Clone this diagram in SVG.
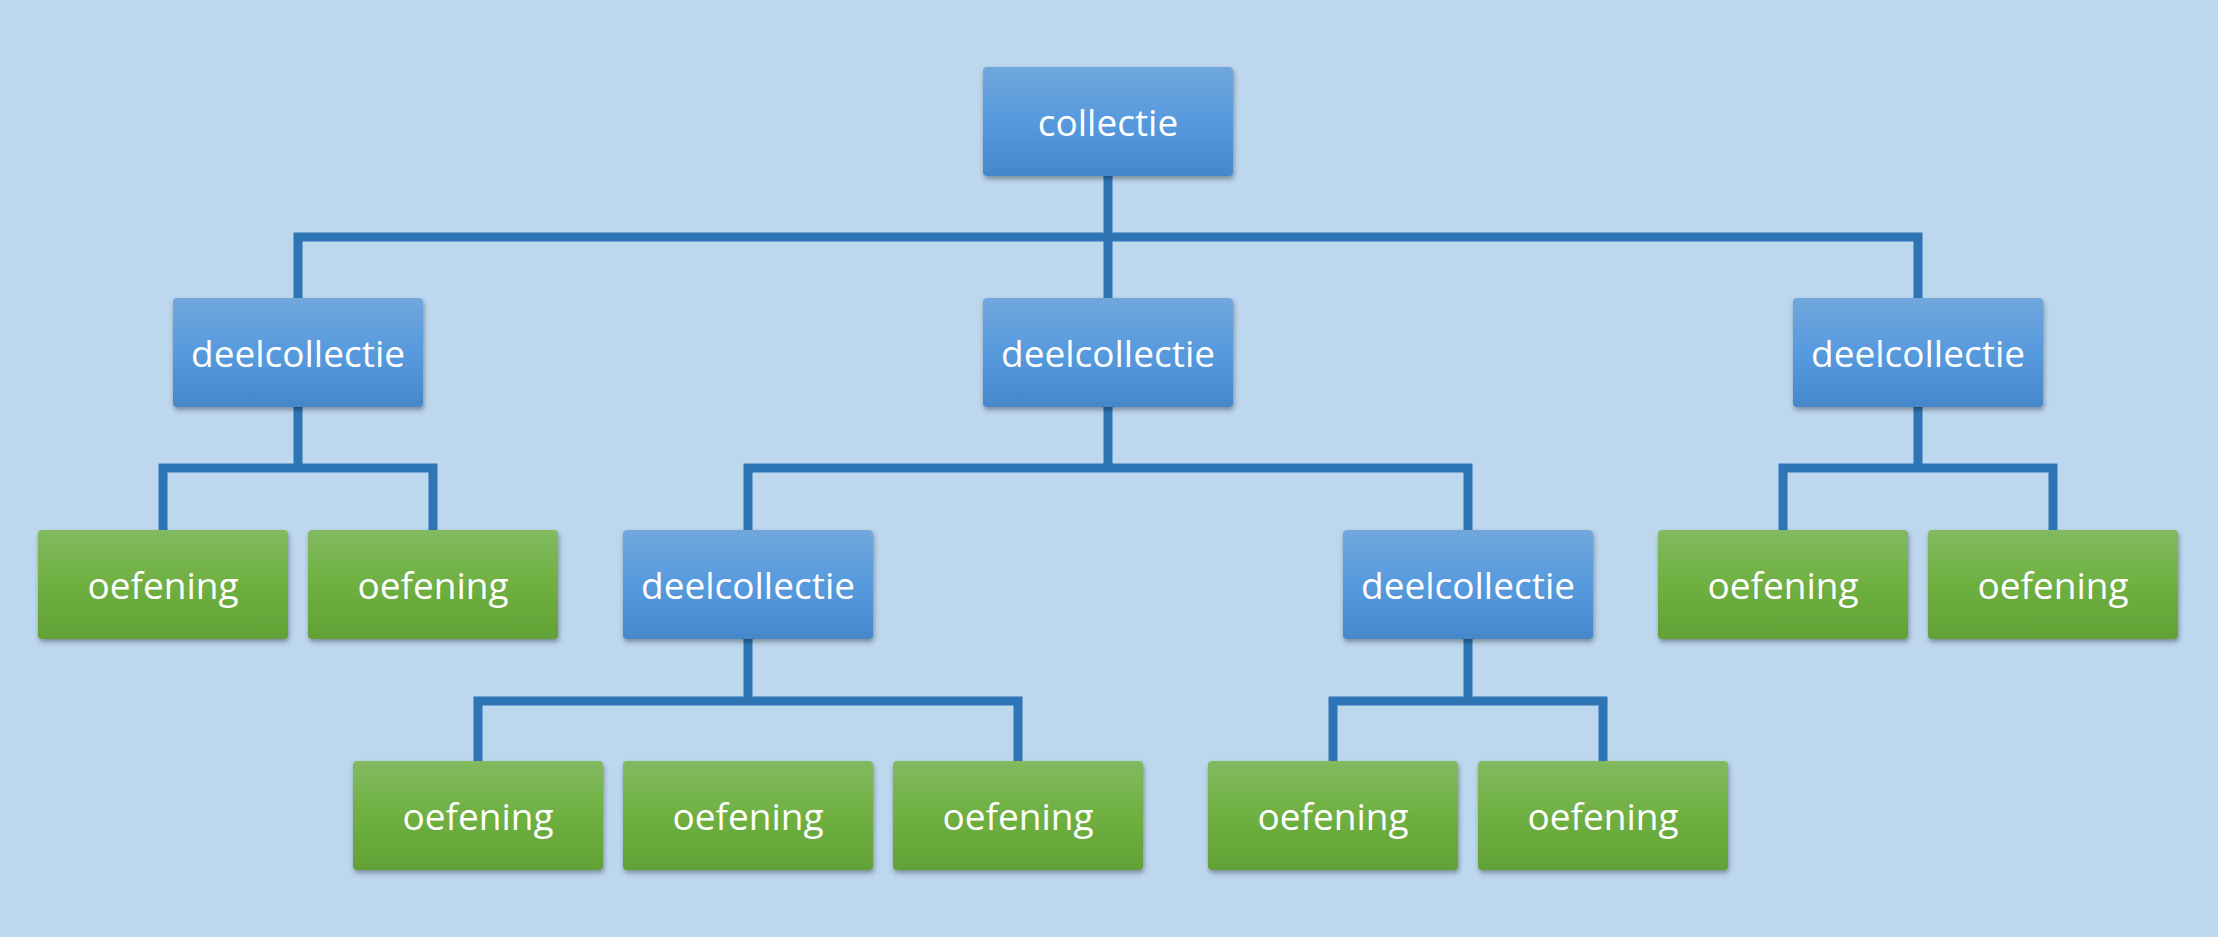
<svg xmlns="http://www.w3.org/2000/svg" width="2218" height="937" viewBox="0 0 2218 937">
<style>
.blue{fill:url(#gb);filter:url(#sh)}
.green{fill:url(#gg);filter:url(#sh)}
.t{font-family:"Open Sans","Liberation Sans",sans-serif;font-size:37px;fill:#ffffff;text-anchor:middle;dominant-baseline:central}
.c{fill:none;stroke:#2e75b6;stroke-width:9}
</style>
<defs>
<linearGradient id="gb" x1="0" y1="0" x2="0" y2="1">
<stop offset="0" stop-color="#71a7dd"/>
<stop offset="0.5" stop-color="#579ade"/>
<stop offset="1" stop-color="#4587ca"/>
</linearGradient>
<linearGradient id="gg" x1="0" y1="0" x2="0" y2="1">
<stop offset="0" stop-color="#82ba60"/>
<stop offset="0.5" stop-color="#6fb041"/>
<stop offset="1" stop-color="#62a136"/>
</linearGradient>
<filter id="sh" x="-10%" y="-10%" width="120%" height="130%">
<feDropShadow dx="1" dy="3" stdDeviation="2.5" flood-color="#000" flood-opacity="0.35"/>
</filter>
</defs>
<rect width="2218" height="937" fill="#bdd7ee"/>
<g id="connectors">
<path class="c" d="M1108 176V237M298 298V237H1918V298M1108 237V298"/>
<path class="c" d="M298 407V468M163 530V468H433V530"/>
<path class="c" d="M1108 407V468M748 530V468H1468V530"/>
<path class="c" d="M1918 407V468M1783 530V468H2053V530"/>
<path class="c" d="M748 639V701M478 761V701H1018V761"/>
<path class="c" d="M1468 639V701M1333 761V701H1603V761"/>
</g>
<g id="n0"><rect class="blue" x="983" y="67" width="250" height="109" rx="4"/><text class="t" x="1108" y="121.5">collectie</text></g>
<g id="n1"><rect class="blue" x="173" y="298" width="250" height="109" rx="4"/><text class="t" x="298" y="352.5">deelcollectie</text></g>
<g id="n2"><rect class="blue" x="983" y="298" width="250" height="109" rx="4"/><text class="t" x="1108" y="352.5">deelcollectie</text></g>
<g id="n3"><rect class="blue" x="1793" y="298" width="250" height="109" rx="4"/><text class="t" x="1918" y="352.5">deelcollectie</text></g>
<g id="n4"><rect class="green" x="38" y="530" width="250" height="109" rx="4"/><text class="t" x="163" y="584.5">oefening</text></g>
<g id="n5"><rect class="green" x="308" y="530" width="250" height="109" rx="4"/><text class="t" x="433" y="584.5">oefening</text></g>
<g id="n6"><rect class="blue" x="623" y="530" width="250" height="109" rx="4"/><text class="t" x="748" y="584.5">deelcollectie</text></g>
<g id="n7"><rect class="blue" x="1343" y="530" width="250" height="109" rx="4"/><text class="t" x="1468" y="584.5">deelcollectie</text></g>
<g id="n8"><rect class="green" x="1658" y="530" width="250" height="109" rx="4"/><text class="t" x="1783" y="584.5">oefening</text></g>
<g id="n9"><rect class="green" x="1928" y="530" width="250" height="109" rx="4"/><text class="t" x="2053" y="584.5">oefening</text></g>
<g id="n10"><rect class="green" x="353" y="761" width="250" height="109" rx="4"/><text class="t" x="478" y="815.5">oefening</text></g>
<g id="n11"><rect class="green" x="623" y="761" width="250" height="109" rx="4"/><text class="t" x="748" y="815.5">oefening</text></g>
<g id="n12"><rect class="green" x="893" y="761" width="250" height="109" rx="4"/><text class="t" x="1018" y="815.5">oefening</text></g>
<g id="n13"><rect class="green" x="1208" y="761" width="250" height="109" rx="4"/><text class="t" x="1333" y="815.5">oefening</text></g>
<g id="n14"><rect class="green" x="1478" y="761" width="250" height="109" rx="4"/><text class="t" x="1603" y="815.5">oefening</text></g>
</svg>
